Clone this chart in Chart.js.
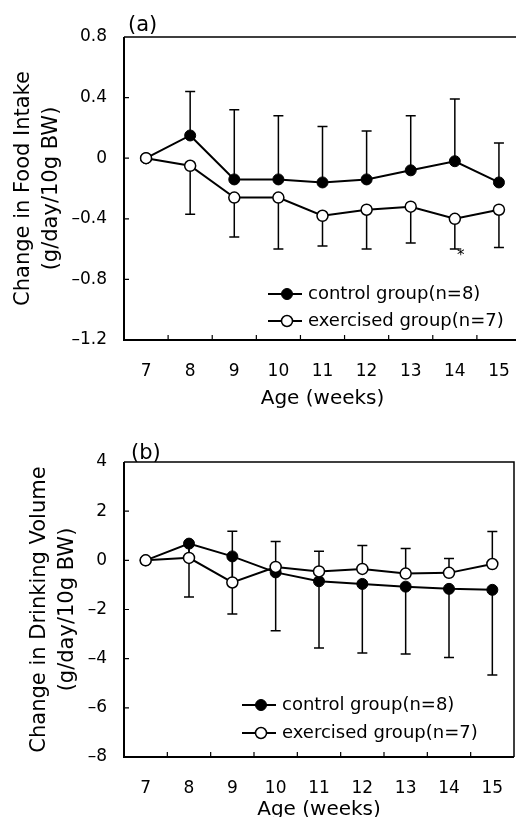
<!DOCTYPE html>
<html>
<head>
<meta charset="utf-8">
<script src="https://cdn.jsdelivr.net/npm/chart.js@4.4.0/dist/chart.umd.min.js"></script>
<style>
  html, body { margin: 0; padding: 0; background: #fff; overflow: hidden; }
  body { width: 516px; height: 817px; position: relative; }
  canvas { position: absolute; left: 0; }
  #chartA { top: 0; width: 523px; height: 412px; }
  #chartB { top: 400px; width: 516px; height: 432px; }
</style>
</head>
<body>
<canvas id="chartA" width="523" height="412"></canvas>
<canvas id="chartB" width="516" height="432"></canvas>
<script>
'use strict';

// DATA

let weeks = ['7', '8', '9', '10', '11', '12', '13', '14', '15'];
let legendLabels = ['control group(n=8)', 'exercised group(n=7)'];
let panelLabels = ['(a)', '(b)'];
let xTitle = 'Age (weeks)';

// (a) food intake: control bars go up, exercised bars go down
let foodTitle = ['Change in Food Intake', '(g/day/10g BW)'];
let foodTicks = [0.8, 0.4, 0, -0.4, -0.8, -1.2];
let foodControl = [0, 0.15, -0.14, -0.14, -0.16, -0.14, -0.08, -0.02, -0.16];
let foodControlSD = [0, 0.29, 0.46, 0.42, 0.37, 0.32, 0.36, 0.41, 0.26];
let foodExercised = [0, -0.05, -0.26, -0.26, -0.38, -0.34, -0.32, -0.40, -0.34];
let foodExercisedSD = [0, 0.32, 0.26, 0.34, 0.20, 0.26, 0.24, 0.20, 0.25];
let foodMarks = ['', '', '', '', '', '', '', '*', ''];

// (b) drinking volume: control bars go down, exercised bars go up
let drinkTitle = ['Change in Drinking Volume', '(g/day/10g BW)'];
let drinkTicks = [4, 2, 0, -2, -4, -6, -8];
let drinkControl = [0, 0.68, 0.16, -0.49, -0.85, -0.96, -1.07, -1.16, -1.2];
let drinkControlSD = [0, 2.17, 2.34, 2.37, 2.72, 2.81, 2.74, 2.79, 3.46];
let drinkExercised = [0, 0.1, -0.9, -0.27, -0.45, -0.35, -0.54, -0.51, -0.15];
let drinkExercisedSD = [0, 0.65, 2.08, 1.04, 0.82, 0.95, 1.02, 0.58, 1.32];

const FONT = '"DejaVu Sans", sans-serif';

function formatTick(v) {
  if (v === 0) return '0';
  return String(v).replace('-', '\u2013');
}

// PLUGINS

// frame around the plot, inner tick marks and panel letter
let framePlugin = {
  id: 'frame',
  beforeDatasetsDraw(chart, args, opts) {
    let ctx = chart.ctx;
    let a = chart.chartArea;
    let x = chart.scales.x;
    let y = chart.scales.y;
    ctx.save();
    ctx.strokeStyle = '#000';
    ctx.lineWidth = 1.5;
    ctx.beginPath();
    ctx.moveTo(a.left, a.top);
    ctx.lineTo(a.right, a.top);
    ctx.lineTo(a.right, a.bottom);
    ctx.stroke();
    ctx.lineWidth = 2;
    ctx.beginPath();
    ctx.moveTo(a.left, a.top);
    ctx.lineTo(a.left, a.bottom);
    ctx.lineTo(a.right, a.bottom);
    ctx.stroke();

    ctx.lineWidth = 1.2;
    ctx.beginPath();
    y.ticks.forEach(t => {
      if (t.value === y.min || t.value === y.max) return;
      let py = y.getPixelForValue(t.value);
      ctx.moveTo(a.left, py);
      ctx.lineTo(a.left + 5, py);
    });
    for (let i = 0; i < weeks.length - 1; i++) {
      let px = (x.getPixelForValue(i) + x.getPixelForValue(i + 1)) / 2;
      ctx.moveTo(px, a.bottom);
      ctx.lineTo(px, a.bottom - 5);
    }
    ctx.stroke();

    ctx.fillStyle = '#000';
    ctx.font = '21px ' + FONT;
    ctx.textBaseline = 'middle';
    ctx.textAlign = 'left';
    ctx.fillText(opts.panel, a.left + opts.panelDx, a.top + opts.panelDy);
    ctx.restore();
  }
};

// one-sided error bars, drawn behind the points
let errorBarPlugin = {
  id: 'errorBars',
  beforeDatasetsDraw(chart) {
    let ctx = chart.ctx;
    let y = chart.scales.y;
    ctx.save();
    ctx.strokeStyle = '#000';
    ctx.fillStyle = '#000';
    ctx.lineWidth = 1.5;
    chart.data.datasets.forEach((ds, i) => {
      let meta = chart.getDatasetMeta(i);
      meta.data.forEach((pt, j) => {
        let sd = ds.errors[j];
        if (!sd) return;
        let end = y.getPixelForValue(ds.data[j] + ds.errorDir * sd);
        ctx.beginPath();
        ctx.moveTo(pt.x, pt.y);
        ctx.lineTo(pt.x, end);
        ctx.moveTo(pt.x - 5, end);
        ctx.lineTo(pt.x + 5, end);
        ctx.stroke();
        if (ds.marks && ds.marks[j]) {
          ctx.font = '15px ' + FONT;
          ctx.textAlign = 'center';
          ctx.textBaseline = 'middle';
          ctx.fillText(ds.marks[j], pt.x + 6, end + 7);
        }
      });
    });
    ctx.restore();
  }
};

// legend inside the plot area, lower right
let insideLegendPlugin = {
  id: 'insideLegend',
  afterDatasetsDraw(chart, args, opts) {
    let ctx = chart.ctx;
    let a = chart.chartArea;
    ctx.save();
    legendLabels.forEach((label, i) => {
      let ds = chart.data.datasets[i];
      let x0 = a.left + opts.dx;
      let yy = a.bottom - opts.rows[i];
      ctx.strokeStyle = '#000';
      ctx.lineWidth = 2;
      ctx.beginPath();
      ctx.moveTo(x0, yy);
      ctx.lineTo(x0 + 34, yy);
      ctx.stroke();
      ctx.beginPath();
      ctx.arc(x0 + 19, yy, 5.5, 0, Math.PI * 2);
      ctx.fillStyle = ds.pointBackgroundColor;
      ctx.fill();
      ctx.lineWidth = ds.pointBorderWidth;
      ctx.stroke();
      ctx.fillStyle = '#000';
      ctx.font = '18px ' + FONT;
      ctx.textAlign = 'left';
      ctx.textBaseline = 'middle';
      ctx.fillText(label, x0 + 40, yy);
    });
    ctx.restore();
  }
};

// CHART BUILDER

function buildChart(id, cfg) {
  return new Chart(document.getElementById(id), {
    type: 'line',
    data: {
      labels: weeks,
      datasets: [
        {
          label: legendLabels[0],
          data: cfg.control,
          errors: cfg.controlSD,
          errorDir: cfg.controlDir,
          borderColor: '#000',
          borderWidth: 2,
          pointRadius: 5.5,
          pointBackgroundColor: '#000',
          pointBorderColor: '#000',
          pointBorderWidth: 1,
          tension: 0,
          order: 2
        },
        {
          label: legendLabels[1],
          data: cfg.exercised,
          errors: cfg.exercisedSD,
          errorDir: cfg.exercisedDir,
          marks: cfg.marks,
          borderColor: '#000',
          borderWidth: 2,
          pointRadius: 5.5,
          pointBackgroundColor: '#fff',
          pointBorderColor: '#000',
          pointBorderWidth: 1.5,
          tension: 0,
          order: 1
        }
      ]
    },
    options: {
      responsive: false,
      animation: false,
      layout: {
        autoPadding: false,
        padding: { top: cfg.top, right: cfg.right, left: 0, bottom: 0 }
      },
      plugins: {
        legend: { display: false },
        tooltip: { enabled: false },
        frame: { panel: cfg.panel, panelDx: cfg.panelDx, panelDy: cfg.panelDy },
        insideLegend: { dx: cfg.legendDx, rows: cfg.legendRows }
      },
      scales: {
        x: {
          type: 'category',
          offset: true,
          grid: { display: false, drawTicks: false },
          border: { display: false },
          ticks: {
            color: '#000',
            // tall line box pushes the week numbers down without adding side padding
            font: { family: FONT, size: 17, lineHeight: '59px' },
            padding: 2,
            maxRotation: 0,
            autoSkip: false
          },
          title: {
            display: true,
            text: xTitle,
            color: '#000',
            font: { family: FONT, size: 20 },
            padding: { top: 0, bottom: cfg.xTitlePad }
          },
          afterFit(scale) {
            scale.height = cfg.xHeight;
            scale.paddingLeft = 0;
            scale.paddingRight = 0;
          }
        },
        y: {
          min: cfg.ticks[cfg.ticks.length - 1],
          max: cfg.ticks[0],
          grid: { display: false, drawTicks: false },
          border: { display: false },
          afterBuildTicks(scale) {
            scale.ticks = cfg.ticks.map(v => ({ value: v }));
          },
          ticks: {
            color: '#000',
            font: { family: FONT, size: 17 },
            padding: 17,
            callback: v => formatTick(v)
          },
          title: {
            display: true,
            text: cfg.yTitle,
            color: '#000',
            font: { family: FONT, size: 21, lineHeight: 1.35 },
            padding: { top: cfg.yTitlePad, bottom: 0 }
          },
          afterFit(scale) { scale.width = 124; }
        }
      }
    },
    plugins: [framePlugin, errorBarPlugin, insideLegendPlugin]
  });
}

buildChart('chartA', {
  control: foodControl,
  controlSD: foodControlSD,
  controlDir: 1,
  exercised: foodExercised,
  exercisedSD: foodExercisedSD,
  exercisedDir: -1,
  marks: foodMarks,
  ticks: foodTicks,
  yTitle: foodTitle,
  panel: panelLabels[0],
  panelDx: 4,
  panelDy: -11,
  top: 37,
  right: 2,
  xHeight: 72,
  xTitlePad: 1,
  yTitlePad: 9,
  legendDx: 144,
  legendRows: [46, 19]
});

buildChart('chartB', {
  control: drinkControl,
  controlSD: drinkControlSD,
  controlDir: -1,
  exercised: drinkExercised,
  exercisedSD: drinkExercisedSD,
  exercisedDir: 1,
  marks: null,
  ticks: drinkTicks,
  yTitle: drinkTitle,
  panel: panelLabels[1],
  panelDx: 7,
  panelDy: -8,
  top: 62,
  right: 2,
  xHeight: 75,
  xTitlePad: 10,
  yTitlePad: 25,
  legendDx: 118,
  legendRows: [52, 24]
});
</script>
</body>
</html>
